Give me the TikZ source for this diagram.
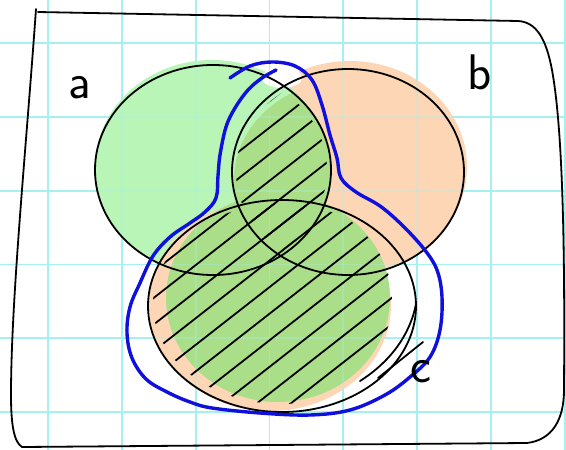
\documentclass[tikz,border=0pt]{standalone}
\usepackage{tikz}
\definecolor{gridcyan}{RGB}{165,240,240}
\definecolor{palegreen}{RGB}{184,245,182}
\definecolor{midgreen}{RGB}{170,222,136}
\definecolor{peach}{RGB}{252,214,181}
\definecolor{penblue}{RGB}{16,16,222}

\begin{document}
\begin{tikzpicture}[x=1pt, y=-1pt, line cap=round, line join=round,
	pen/.style={black, line width=1.8pt},
	bluepen/.style={penblue, line width=3.4pt},
	gridline/.style={gridcyan, line width=1.8pt},
	every node/.style={font=\sffamily\fontsize{50}{50}\selectfont, inner sep=0pt}]
	\useasboundingbox (0,0) rectangle (566,450);
	\fill[white] (0,0) rectangle (566,450);
	% squared paper
	\foreach \g in {0,...,7} {\draw[gridline] ({48+73.8*\g},0) -- ({48+73.8*\g},450);}
	\foreach \g in {0,...,5} {\draw[gridline] (0,{43+73.8*\g}) -- (566,{43+73.8*\g});}
	% colouring
	\fill[peach] (350,167) ellipse [x radius=117, y radius=106];
	\fill[palegreen] (212,167) ellipse [x radius=117, y radius=107];
	\begin{scope}
		\clip (213,170) ellipse [x radius=118, y radius=105];
		\fill[midgreen] (348,180) ellipse [x radius=114, y radius=100];
	\end{scope}
	\fill[white] (282,78) ellipse [x radius=20, y radius=10];
	\fill[peach] (270,305) ellipse [x radius=121, y radius=106];
	\fill[midgreen] (278,298) ellipse [x radius=112, y radius=104];
	\foreach \g in {0,...,7} {\draw[gridline, opacity=0.3] ({48+73.8*\g},0) -- ({48+73.8*\g},450);}
	\foreach \g in {0,...,5} {\draw[gridline, opacity=0.3] (0,{43+73.8*\g}) -- (566,{43+73.8*\g});}
	% hatching of (a and b) or c
	\begin{scope}
		\clip (281,304) ellipse [x radius=128, y radius=100];
		\clip (268,300) ellipse [x radius=124, y radius=106];
		\foreach \k in {-12,...,12} {\draw[pen] ({283+12.9*\k-197},{250+16.5*\k+154}) -- ({283+12.9*\k+197},{250+16.5*\k-154});}
	\end{scope}
	\begin{scope}
		\clip (213,170) ellipse [x radius=114, y radius=100];
		\clip (348,172) ellipse [x radius=112, y radius=98];
		\foreach \k in {-12,...,12} {\draw[pen] ({283+12.9*\k-197},{250+16.5*\k+154}) -- ({283+12.9*\k+197},{250+16.5*\k-154});}
	\end{scope}
	% the three sets
	\draw[pen] (213,170) ellipse [x radius=118, y radius=105];
	\draw[pen] (348,172) ellipse [x radius=116, y radius=103];
	\draw[pen] (282,306) ellipse [x radius=134, y radius=106];
	\draw[pen] (416,304) .. controls (410,335) and (390,362) .. (360,381);
	\draw[pen] (378,378) -- (423,342);
	% blue outline
	\draw[bluepen] plot[smooth, tension=0.6] coordinates {(230,78) (250,66) (272,62) (295,66) (312,80) (322,105) (330,135) (337,158) (341,178) (356,192) (380,206) (402,225) (424,249) (437,270) (442,297) (440,330) (430,357) (410,377) (385,395) (350,410) (310,415) (260,413) (212,408) (190,402) (167,392) (146,379) (132,358) (127,333) (130,307) (140,283) (153,256) (170,237) (190,223) (205,212) (216,198) (218,176) (220,155) (226,127) (235,108) (248,90) (262,78) (276,70)};
	% labels
	\node (lbla) at (80,88) {a};
	\node (lblb) at (480,72) {b};
	\node (lblc) at (421,372) {c};
	% frame
	\draw[pen] (36,9) .. controls (26,150) and (11,300) .. (11,395)
		.. controls (11,425) and (14,442) .. (22,447) -- (527,443)
		.. controls (552,440) and (564,420) .. (564,390)
		.. controls (565,250) and (563,130) .. (552,70)
		.. controls (546,38) and (536,22) .. (518,21) -- (38,12);
\end{tikzpicture}
\end{document}
